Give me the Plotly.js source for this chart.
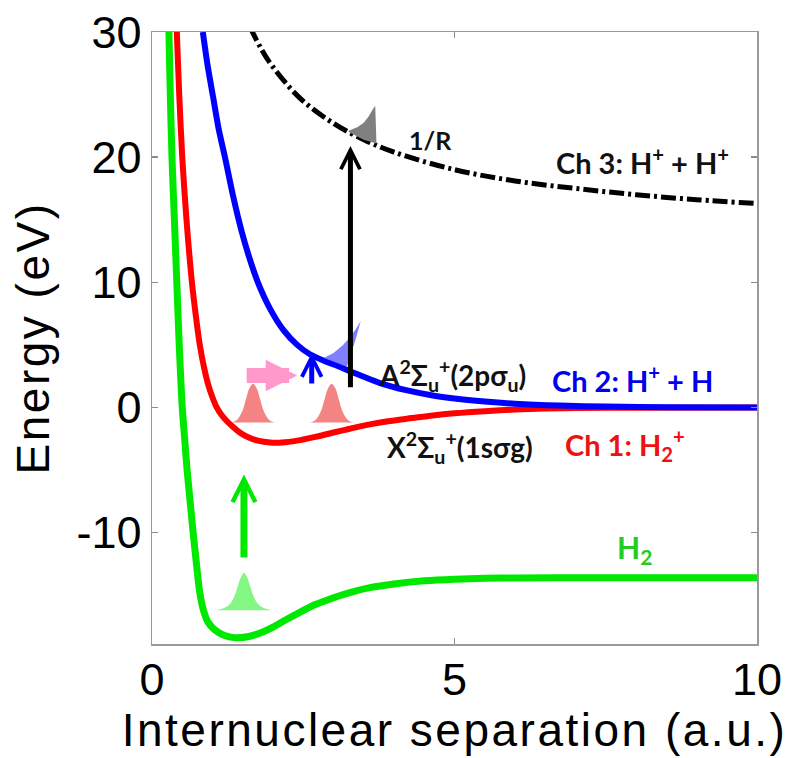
<!DOCTYPE html>
<html>
<head>
<meta charset="utf-8">
<script src="https://cdn.plot.ly/plotly-3.0.1.min.js"></script>
<style>
  html, body { margin: 0; padding: 0; background: #ffffff; }
  #chart { width: 801px; height: 758px; }
  .xtitle, .ytitle { letter-spacing: 2.5px; }
</style>
</head>
<body>
<div id="chart"></div>
<script>
// ---- potential curves (R in a.u., energy in eV) ----
const h2R   = [0.28, 0.30, 0.33, 0.37, 0.41, 0.45, 0.50, 0.54, 0.58, 0.63, 0.68, 0.735, 0.79, 0.85, 0.92, 1.00, 1.10, 1.20, 1.30, 1.42, 1.60, 1.80, 2.00, 2.20, 2.45, 2.70, 3.00, 3.30, 3.60, 4.00, 4.50, 5.00, 5.50, 6.00, 7.00, 10.0];
const h2E   = [30.0, 25.5, 20.0, 15.0, 10.0, 5.0, 0.0, -2.5, -5.0, -7.5, -10.0, -12.5, -14.8, -16.2, -17.1, -17.6, -17.98, -18.22, -18.35, -18.4, -18.3, -18.0, -17.55, -17.0, -16.35, -15.75, -15.2, -14.75, -14.4, -14.1, -13.85, -13.72, -13.65, -13.62, -13.6, -13.6];

const ch1R  = [0.41, 0.45, 0.50, 0.57, 0.66, 0.72, 0.79, 0.86, 0.93, 1.00, 1.07, 1.15, 1.24, 1.35, 1.45, 1.60, 1.75, 1.95, 2.15, 2.40, 2.70, 3.00, 3.27, 3.60, 3.90, 4.30, 4.64, 5.00, 5.50, 6.00, 6.50, 7.00, 8.00, 10.0];
const ch1E  = [30.0, 25.0, 20.0, 15.0, 10.0, 7.5, 5.0, 3.2, 1.8, 0.8, 0.0, -0.6, -1.1, -1.6, -2.0, -2.4, -2.65, -2.8, -2.8, -2.65, -2.35, -2.0, -1.7, -1.35, -1.1, -0.85, -0.64, -0.47, -0.3, -0.17, -0.09, -0.05, -0.02, 0.0];

const ch2R  = [0.84, 0.92, 1.01, 1.10, 1.21, 1.34, 1.48, 1.60, 1.75, 1.95, 2.17, 2.40, 2.61, 2.86, 3.05, 3.27, 3.50, 3.77, 4.20, 4.64, 5.00, 5.50, 6.00, 6.74, 7.50, 8.50, 10.0];
const ch2E  = [30.0, 27.3, 24.8, 22.3, 19.9, 16.9, 14.1, 12.1, 10.0, 7.9, 6.2, 5.0, 4.25, 3.7, 3.35, 2.9, 2.45, 1.95, 1.38, 0.96, 0.72, 0.48, 0.3, 0.15, 0.07, 0.02, 0.0];

const ch3R  = [1.62, 1.80, 2.00, 2.45, 3.00, 3.50, 4.00, 5.00, 6.00, 7.00, 8.00, 9.00, 10.0];
const ch3E  = [30.4, 28.7, 27.2, 24.7, 22.7, 21.4, 20.4, 19.0, 18.1, 17.5, 17.0, 16.6, 16.3];

// ---- wave packets (outline points) ----
const pkt1R = [1.31, 1.38, 1.44, 1.50, 1.555, 1.61, 1.67, 1.73, 1.785, 1.84, 1.90, 1.96, 2.03];
const pkt1E = [-1.2, -1.08, -0.78, -0.21, 0.69, 1.53, 1.9, 1.53, 0.69, -0.21, -0.78, -1.08, -1.2];
const pkt2R = [2.61, 2.68, 2.74, 2.80, 2.855, 2.91, 2.97, 3.03, 3.085, 3.14, 3.20, 3.26, 3.33];
const pkt2E = [-1.2, -1.08, -0.78, -0.21, 0.69, 1.53, 1.9, 1.53, 0.69, -0.21, -0.78, -1.08, -1.2];
const pktGR = [1.05, 1.18, 1.28, 1.35, 1.41, 1.47, 1.52, 1.57, 1.63, 1.69, 1.76, 1.86, 1.98];
const pktGE = [-16.2, -16.05, -15.75, -15.2, -14.4, -13.55, -13.2, -13.55, -14.4, -15.2, -15.75, -16.05, -16.2];
const pktKR = [3.25, 3.40, 3.50, 3.58, 3.64, 3.69, 3.71, 3.50, 3.25];
const pktKE = [22.1, 22.4, 22.75, 23.25, 23.75, 24.1, 21.1, 21.4, 22.0];
const pktBR = [2.84, 3.00, 3.15, 3.28, 3.38, 3.45, 3.37, 3.29, 3.22, 3.05, 2.84];
const pktBE = [3.95, 4.35, 4.95, 5.65, 6.35, 6.9, 5.5, 4.3, 3.25, 3.55, 3.95];

// ---- transition arrows: tail (R0,E0) -> head (R1,E1) ----
const arrowR0 = [1.52, 3.28, 2.64, 1.54];
const arrowE0 = [-12.1, 1.5, 1.8, 2.55];
const arrowR1 = [1.52, 3.28, 2.64, 2.40];
const arrowE1 = [-5.35, 20.9, 4.35, 2.55];

// ---- labels ----
const labelText = ['1/R', 'Ch 3: H<sup>+</sup> + H<sup>+</sup>', 'A<sup>2</sup>Σ<sub>u</sub><sup>+</sup>(2pσ<sub>u</sub>)',
                   'Ch 2: H<sup>+</sup> + H', 'X<sup>2</sup>Σ<sub>u</sub><sup>+</sup>(1sσg)', 'Ch 1: H<sub>2</sub><sup>+</sup>', 'H<sub>2</sub>'];
const labelR = [4.60, 8.10, 4.96, 7.95, 5.09, 7.82, 7.98];
const labelE = [21.4, 19.7, 2.55, 2.3, -3.2, -3.0, -11.3];

const xTicks = [0, 5, 10];
const yTicks = [-10, 0, 10, 20, 30];

const traces = [
  {x: h2R, y: h2E, mode: 'lines', line: {color: '#00e800', width: 7, shape: 'spline', smoothing: 0.8}},
  {x: ch1R, y: ch1E, mode: 'lines', line: {color: '#ff0000', width: 6, shape: 'spline', smoothing: 0.8}},
  {x: ch2R, y: ch2E, mode: 'lines', line: {color: '#0000ff', width: 6, shape: 'spline', smoothing: 0.8}},
  {x: ch3R, y: ch3E, mode: 'lines', line: {color: '#000000', width: 5, dash: '15px,4px,3px,4px', shape: 'spline'}},
  {x: pkt1R, y: pkt1E, mode: 'lines', fill: 'toself', fillcolor: 'rgba(242,110,110,0.85)', line: {width: 0, shape: 'spline'}},
  {x: pkt2R, y: pkt2E, mode: 'lines', fill: 'toself', fillcolor: 'rgba(242,110,110,0.85)', line: {width: 0, shape: 'spline'}},
  {x: pktGR, y: pktGE, mode: 'lines', fill: 'toself', fillcolor: 'rgba(110,245,110,0.85)', line: {width: 0, shape: 'spline'}},
  {x: pktKR, y: pktKE, mode: 'lines', fill: 'toself', fillcolor: '#808080', line: {width: 0}},
  {x: pktBR, y: pktBE, mode: 'lines', fill: 'toself', fillcolor: 'rgba(95,95,255,0.8)', line: {width: 0}}
];

const arrowStyle = [
  {color: '#00e800', width: 7, head: 5, size: 0.64},
  {color: '#000000', width: 5, head: 5, size: 0.75},
  {color: '#0000ff', width: 5, head: 5, size: 0.77},
  {color: '#ff99cc', width: 15, head: 2, size: 0.42}
];
const labelColor = ['#111111', '#111111', '#111111', '#0000ee', '#111111', '#ee1111', '#22cc22'];
const labelSize = [25, 29, 28, 29, 28, 29, 30];

const annotations = [];
arrowR0.forEach((r0, i) => {
  annotations.push({
    x: arrowR1[i], y: arrowE1[i], ax: r0, ay: arrowE0[i], xref: 'x', yref: 'y', axref: 'x', ayref: 'y',
    text: '', showarrow: true, arrowhead: arrowStyle[i].head, arrowsize: arrowStyle[i].size,
    arrowwidth: arrowStyle[i].width, arrowcolor: arrowStyle[i].color, standoff: 0, startstandoff: 0
  });
});
labelText.forEach((t, i) => {
  annotations.push({
    x: labelR[i], y: labelE[i], xref: 'x', yref: 'y', text: t, showarrow: false,
    xanchor: 'center', yanchor: 'middle',
    font: {family: 'Lato, "Open Sans", sans-serif', size: labelSize[i], color: labelColor[i], weight: 'bold'}
  });
});

const axisFont = {family: '"Liberation Sans", Arial, sans-serif', size: 45, color: '#000000'};
const layout = {
  width: 801, height: 758,
  margin: {l: 152, r: 44, t: 32, b: 114},
  paper_bgcolor: '#ffffff', plot_bgcolor: '#ffffff',
  showlegend: false,
  xaxis: {
    range: [0, 10], tickvals: xTicks, ticktext: xTicks.map(String),
    ticks: 'inside', ticklen: 6, tickwidth: 1.5, tickcolor: '#8c8c8c', ticklabelstandoff: -5,
    showline: true, linecolor: '#9a9a9a', linewidth: 1.5, mirror: 'ticks',
    showgrid: false, zeroline: false, tickfont: axisFont,
    title: {text: 'Internuclear separation (a.u.)', font: {family: '"Liberation Sans", Arial, sans-serif', size: 46, color: '#000'}, standoff: 2}
  },
  yaxis: {
    range: [-18.9, 30], tickvals: yTicks, ticktext: yTicks.map(String),
    ticks: 'inside', ticklen: 6, tickwidth: 1.5, tickcolor: '#8c8c8c',
    showline: true, linecolor: '#9a9a9a', linewidth: 1.5, mirror: 'ticks',
    showgrid: false, zeroline: false, tickfont: axisFont,
    title: {text: 'Energy (eV)', font: {family: '"Liberation Sans", Arial, sans-serif', size: 46, color: '#000'}, standoff: 12}
  },
  annotations: annotations
};

Plotly.newPlot('chart', traces, layout, {displayModeBar: false, staticPlot: true});
</script>
</body>
</html>
